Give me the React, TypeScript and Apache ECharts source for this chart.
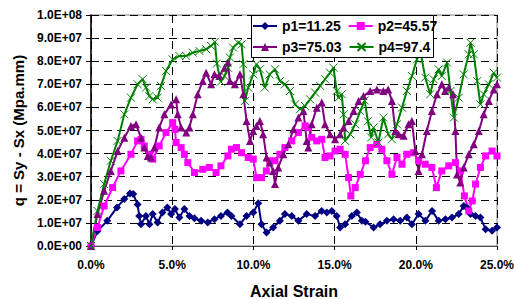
import React, { useEffect, useRef } from "react";
import * as echarts from "echarts";

const seriesNames = ["p1=11.25", "p2=45.57", "p3=75.03", "p4=97.4"];
const seriesColors = ["#000080", "#FF00FF", "#800080", "#008000"];

// values are in units of 1.0E+07 Mpa.mm, strain in %
const p1Strain = [0, 0.4, 1.0, 1.6, 2.05, 2.4, 2.6, 2.87, 2.97, 3.08, 3.38, 3.6, 3.8, 4.1, 4.4, 4.7, 4.93, 5.17, 5.44, 5.75, 6.06, 6.37, 6.78, 7.19, 7.6, 8.0, 8.4, 8.65, 9.17, 9.58, 9.99, 10.3, 10.5, 10.81, 11.22, 11.63, 11.94, 12.36, 12.77, 13.28, 13.8, 14.2, 14.52, 14.83, 15.13, 15.34, 15.65, 16.06, 16.37, 16.68, 16.9, 17.4, 17.8, 18.22, 18.63, 19.04, 19.45, 19.76, 20.17, 20.59, 21.0, 21.41, 21.82, 22.23, 22.64, 22.95, 23.16, 23.37, 23.68, 23.98, 24.3, 24.7, 25.0];
const p1Values = [0, 0.65, 1.09, 1.67, 2.03, 2.27, 2.25, 1.8, 1.3, 0.94, 1.3, 0.94, 1.38, 1.02, 1.45, 1.67, 1.38, 1.6, 1.23, 1.6, 1.3, 1.2, 1.09, 1.02, 1.16, 1.3, 1.45, 1.3, 0.94, 1.3, 1.45, 1.85, 0.94, 0.58, 0.8, 1.09, 1.38, 1.3, 1.09, 1.38, 1.3, 1.52, 1.45, 1.52, 1.3, 0.8, 0.94, 1.3, 1.45, 1.09, 1.05, 0.8, 0.94, 1.09, 1.16, 1.09, 1.23, 0.94, 1.38, 1.09, 1.52, 1.09, 1.16, 1.23, 1.38, 1.73, 1.66, 1.38, 1.3, 1.23, 0.72, 0.66, 0.8];

const p2Strain = [0, 0.4, 0.81, 1.33, 1.84, 2.46, 2.87, 3.08, 3.28, 3.59, 3.8, 4.2, 4.62, 5.03, 5.17, 5.24, 5.55, 5.75, 5.96, 6.37, 6.88, 7.29, 7.7, 8.0, 8.43, 8.65, 8.96, 9.27, 9.68, 9.99, 10.19, 10.5, 10.8, 11.0, 11.33, 11.63, 11.94, 12.36, 12.77, 13.18, 13.38, 13.59, 13.9, 14.21, 14.41, 14.72, 15.03, 15.34, 15.65, 15.86, 16.0, 16.27, 16.58, 16.9, 17.19, 17.6, 17.91, 18.22, 18.53, 18.84, 19.15, 19.45, 19.86, 20.17, 20.58, 20.99, 21.27, 21.6, 22.03, 22.44, 22.74, 22.99, 23.26, 23.47, 23.68, 23.98, 24.3, 24.7, 25.0];
const p2Values = [0, 0.8, 1.73, 2.53, 3.25, 3.97, 4.55, 4.62, 4.33, 3.97, 3.76, 4.33, 4.91, 5.34, 5.05, 4.48, 4.26, 3.97, 3.61, 3.18, 3.32, 3.4, 3.18, 3.47, 3.9, 4.19, 4.26, 4.04, 3.83, 3.76, 2.96, 2.96, 3.25, 3.69, 3.69, 3.97, 4.26, 4.55, 4.91, 5.2, 5.13, 4.7, 4.55, 4.62, 3.83, 3.9, 4.11, 4.19, 3.97, 2.96, 2.17, 2.53, 3.1, 3.69, 4.26, 4.4, 4.19, 3.69, 3.1, 3.83, 3.54, 3.97, 4.04, 3.69, 3.54, 3.4, 2.53, 3.25, 3.47, 3.61, 3.25, 2.17, 1.52, 1.95, 2.68, 3.4, 3.9, 4.11, 3.9];

const p3Strain = [0, 0.4, 0.81, 1.22, 1.64, 2.05, 2.46, 2.77, 3.08, 3.28, 3.49, 3.69, 3.9, 4.2, 4.52, 4.93, 5.24, 5.34, 5.55, 5.86, 6.06, 6.27, 6.57, 6.88, 7.09, 7.4, 7.6, 7.91, 8.22, 8.43, 8.55, 8.86, 9.17, 9.38, 9.58, 9.79, 9.99, 10.19, 10.4, 10.6, 10.81, 11.0, 11.22, 11.33, 11.53, 11.84, 12.15, 12.46, 12.77, 13.08, 13.28, 13.38, 13.59, 13.9, 14.21, 14.41, 14.72, 15.03, 15.34, 15.55, 15.86, 16.17, 16.48, 16.78, 17.19, 17.6, 18.0, 18.3, 18.53, 18.74, 18.94, 19.25, 19.55, 19.76, 19.97, 20.17, 20.38, 20.68, 20.99, 21.3, 21.6, 21.8, 22.03, 22.3, 22.44, 22.54, 22.74, 22.95, 23.26, 23.57, 23.88, 24.18, 24.5, 24.8, 25.0];
const p3Values = [0, 1.38, 2.39, 3.25, 4.11, 4.69, 5.2, 5.27, 4.69, 4.26, 3.9, 3.83, 4.26, 5.13, 5.7, 6.13, 6.35, 5.7, 5.13, 4.91, 5.13, 5.7, 6.57, 7.14, 7.5, 7.0, 7.43, 7.36, 7.72, 7.94, 7.14, 7.0, 7.43, 6.57, 5.41, 4.55, 4.98, 5.2, 5.41, 4.84, 3.83, 3.61, 3.25, 2.68, 3.4, 3.97, 4.4, 5.05, 5.56, 5.84, 4.55, 4.26, 5.27, 5.99, 6.21, 5.27, 4.84, 4.62, 4.84, 5.13, 5.41, 5.84, 6.28, 6.49, 6.71, 6.78, 6.71, 6.78, 6.28, 4.98, 4.84, 4.77, 5.27, 5.41, 4.11, 3.25, 3.97, 4.98, 5.84, 6.57, 7.0, 6.71, 6.86, 6.57, 4.98, 3.1, 2.75, 3.4, 3.97, 4.4, 4.98, 5.7, 6.28, 6.78, 7.0];

const p4Strain = [0, 0.4, 0.81, 1.22, 1.64, 2.05, 2.46, 2.87, 3.18, 3.39, 3.59, 3.8, 4.1, 4.31, 4.62, 5.03, 5.44, 5.86, 6.27, 6.68, 7.09, 7.4, 7.63, 7.75, 7.99, 8.22, 8.43, 8.55, 8.75, 9.06, 9.27, 9.38, 9.48, 9.68, 9.99, 10.19, 10.4, 10.7, 11.0, 11.33, 11.63, 11.94, 12.25, 12.56, 12.87, 13.18, 13.49, 13.8, 14.11, 14.41, 14.72, 14.93, 15.13, 15.24, 15.44, 15.55, 15.65, 15.96, 16.27, 16.58, 16.85, 17.05, 17.25, 17.4, 17.7, 18.0, 18.3, 18.53, 18.84, 19.15, 19.45, 19.76, 20.07, 20.28, 20.58, 20.89, 21.1, 21.41, 21.6, 21.93, 22.13, 22.34, 22.64, 22.95, 23.26, 23.37, 23.57, 23.78, 23.98, 24.18, 24.5, 24.8, 25.0];
const p4Values = [0, 1.52, 2.68, 3.69, 4.55, 5.7, 6.42, 7.0, 7.22, 6.86, 6.49, 6.35, 6.42, 6.93, 7.58, 8.08, 8.23, 8.23, 8.37, 8.44, 8.52, 8.66, 8.84, 7.9, 7.11, 7.36, 7.72, 8.16, 8.59, 8.8, 8.73, 7.87, 6.28, 6.86, 7.43, 7.87, 7.65, 6.86, 7.43, 7.65, 7.14, 7.0, 6.71, 6.13, 5.92, 6.06, 6.35, 6.64, 6.93, 7.22, 7.5, 7.72, 6.71, 6.42, 6.57, 5.7, 4.55, 4.84, 5.27, 5.84, 6.3, 5.4, 4.7, 5.13, 4.48, 5.56, 4.84, 4.62, 5.27, 5.99, 6.71, 7.36, 8.08, 8.44, 7.29, 6.57, 7.22, 7.65, 7.36, 7.94, 6.71, 5.56, 6.42, 7.43, 8.3, 8.8, 8.3, 7.14, 6.13, 6.57, 7.0, 7.5, 7.29];

const FONT = "Arial, 'Liberation Sans', sans-serif";

function pairs(xs: number[], ys: number[]) {
  return xs.map((x, i) => [x, ys[i]]);
}

export default function App() {
  const ref = useRef<HTMLDivElement>(null);
  useEffect(() => {
    document.body.style.margin = "0";
    const chart = echarts.init(ref.current!, null, { renderer: "svg" });
    const symbols = ["diamond", "rect", "triangle", "path://M0 0L10 10M10 0L0 10"];
    const sizes = [8, 7, 8, 8];
    const data = [
      pairs(p1Strain, p1Values),
      pairs(p2Strain, p2Values),
      pairs(p3Strain, p3Values),
      pairs(p4Strain, p4Values),
    ];
    const legendText = { fontFamily: FONT, fontWeight: "bold" as const, fontSize: 14, color: "#000" };
    chart.setOption({
      animation: false,
      backgroundColor: "#fff",
      grid: {
        left: 91,
        right: 17,
        top: 15,
        bottom: 53,
        show: true,
        borderColor: "#808080",
        borderWidth: 1,
        containLabel: false,
        outerBoundsMode: "none",
      },
      legend: [
        {
          data: [seriesNames[0], seriesNames[1]],
          left: 252,
          top: 19,
          padding: 0,
          itemWidth: 24,
          itemHeight: 10,
          itemGap: 7,
          textStyle: legendText,
          z: 20,
        },
        {
          data: [seriesNames[2], seriesNames[3]],
          left: 252,
          top: 40,
          padding: 0,
          itemWidth: 24,
          itemHeight: 10,
          itemGap: 7,
          textStyle: legendText,
          z: 20,
        },
      ],
      graphic: [
        {
          type: "rect",
          left: 251,
          top: 15,
          z: 15,
          shape: { width: 182, height: 42 },
          style: { fill: "#fff", stroke: "#000", lineWidth: 1 },
        },
      ],
      xAxis: {
        type: "value",
        min: 0,
        max: 25,
        interval: 5,
        name: "Axial Strain",
        nameLocation: "middle",
        nameGap: 37,
        nameTextStyle: { fontFamily: FONT, fontWeight: "bold", fontSize: 16, color: "#000" },
        axisLine: { show: true, lineStyle: { color: "#555", width: 1 } },
        axisTick: { show: true, length: 4, lineStyle: { color: "#000" } },
        axisLabel: {
          margin: 13,
          fontFamily: FONT,
          fontWeight: "bold",
          fontSize: 12,
          color: "#000",
          formatter: (v: number) => v.toFixed(1) + "%",
        },
        splitLine: { show: true, lineStyle: { color: "#000", type: [8, 5], width: 1 } },
      },
      yAxis: {
        type: "value",
        min: 0,
        max: 10,
        interval: 1,
        name: "q = Sy - Sx (Mpa.mm)",
        nameLocation: "middle",
        nameGap: 64,
        nameTextStyle: { fontFamily: FONT, fontWeight: "bold", fontSize: 15, color: "#000" },
        axisLine: { show: true, lineStyle: { color: "#000", width: 1.5 } },
        axisTick: { show: true, length: 5, lineStyle: { color: "#000" } },
        axisLabel: {
          margin: 9,
          fontFamily: FONT,
          fontWeight: "bold",
          fontSize: 12,
          color: "#000",
          formatter: (v: number) =>
            v === 0 ? "0.0E+00" : v >= 10 ? (v / 10).toFixed(1) + "E+08" : v.toFixed(1) + "E+07",
        },
        splitLine: { show: true, lineStyle: { color: "#000", type: [8, 5], width: 1 } },
      },
      series: seriesNames.map((name, i) => ({
        name,
        type: "line",
        data: data[i],
        symbol: symbols[i],
        symbolSize: sizes[i],
        color: seriesColors[i],
        lineStyle: { color: seriesColors[i], width: 2 },
        itemStyle:
          i === 3
            ? { color: seriesColors[i], borderColor: seriesColors[i], borderWidth: 1 }
            : { color: seriesColors[i] },
      })),
    });
    return () => chart.dispose();
  }, []);
  return <div ref={ref} style={{ width: 514, height: 299 }} />;
}
